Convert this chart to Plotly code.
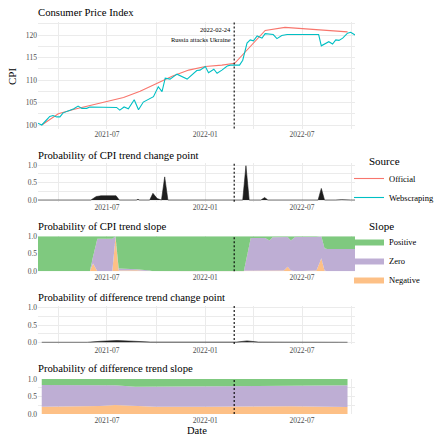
import plotly.graph_objects as go

W = H = 436
FONT = "Liberation Serif"

# ---------------- data ----------------
web_dates = ["2021-02-22", "2021-03-01", "2021-03-09", "2021-03-16", "2021-03-22", "2021-03-29",
             "2021-04-04", "2021-04-10", "2021-04-23", "2021-04-30", "2021-05-08", "2021-05-15",
             "2021-05-24", "2021-05-30", "2021-07-19", "2021-07-25", "2021-08-02", "2021-08-10",
             "2021-08-21", "2021-08-29", "2021-09-07", "2021-09-17", "2021-09-26", "2021-10-05",
             "2021-10-12", "2021-10-18", "2021-10-27", "2021-11-09", "2021-11-28", "2021-12-16",
             "2021-12-22", "2022-01-01", "2022-01-07", "2022-01-17", "2022-01-23", "2022-02-01",
             "2022-02-11", "2022-02-17", "2022-03-06", "2022-03-12", "2022-03-20", "2022-03-26",
             "2022-04-01", "2022-04-08", "2022-04-17", "2022-04-23", "2022-05-02", "2022-05-08",
             "2022-05-15", "2022-05-24", "2022-06-03", "2022-08-01", "2022-08-06", "2022-08-14",
             "2022-08-20", "2022-08-27", "2022-09-02", "2022-09-08", "2022-09-15", "2022-09-24",
             "2022-09-30", "2022-10-08"]
web_cpi = [100.4, 100.0, 101.0, 101.9, 102.1, 101.8,
           101.8, 102.7, 103.3, 103.6, 104.2, 103.7,
           103.7, 104.0, 103.9, 103.3, 104.0, 103.6,
           105.6, 103.4, 105.1, 105.8, 106.3, 108.5,
           107.4, 110.4, 110.2, 111.3, 110.2, 112.1,
           112.2, 113.0, 111.6, 112.4, 111.5, 112.2,
           113.1, 113.3, 113.3, 114.4, 118.2, 118.9,
           118.7, 119.8, 119.3, 120.3, 120.2, 120.1,
           119.2, 119.9, 120.1, 120.1, 117.6, 118.2,
           118.5, 118.0, 118.9, 118.8, 119.3, 120.4,
           120.6, 120.0]

off_dates = ["2021-03-01", "2021-04-01", "2021-05-01", "2021-06-01", "2021-07-01", "2021-08-01",
             "2021-09-01", "2021-10-01", "2021-11-01", "2021-12-01", "2022-01-01", "2022-02-01",
             "2022-02-25", "2022-04-23", "2022-05-30", "2022-09-24"]
off_cpi = [100.0, 102.5, 103.5, 104.4, 105.2, 106.1,
           107.5, 109.2, 110.9, 112.2, 113.0, 113.3,
           113.7, 121.0, 121.7, 120.7]

cp_dates = ["2021-02-22", "2021-06-01", "2021-06-11", "2021-06-20", "2021-07-18", "2021-07-24",
            "2021-08-25", "2021-08-28", "2021-08-31", "2021-09-19", "2021-09-25", "2021-10-03",
            "2021-10-11", "2021-10-17", "2021-10-23", "2022-03-12", "2022-03-18", "2022-03-24",
            "2022-04-15", "2022-04-22", "2022-04-28", "2022-07-31", "2022-08-06", "2022-08-12",
            "2022-09-02", "2022-09-13", "2022-09-30", "2022-10-08"]
cp_prob = [0.0, 0.0, 0.10, 0.12, 0.12, 0.0,
           0.0, 0.02, 0.0, 0.0, 0.19, 0.04,
           0.0, 0.66, 0.0, 0.0, 0.98, 0.0,
           0.0, 0.07, 0.0, 0.0, 0.33, 0.0,
           0.0, 0.01, 0.0, 0.0]

slope_dates = ["2021-02-22", "2021-05-30", "2021-06-05", "2021-06-13", "2021-07-11", "2021-07-17",
               "2021-07-23", "2021-08-25", "2021-09-19", "2021-09-25", "2022-03-14", "2022-03-27",
               "2022-04-23", "2022-05-01", "2022-05-07", "2022-05-28", "2022-06-04", "2022-06-10",
               "2022-06-18", "2022-07-28", "2022-08-06", "2022-08-12", "2022-08-17", "2022-10-08"]
slope_neg = [0.0, 0.0, 0.22, 0.0, 0.0, 0.97,
             0.02, 0.03, 0.0, 0.0, 0.0, 0.0,
             0.0, 0.0, 0.0, 0.02, 0.13, 0.02,
             0.0, 0.02, 0.37, 0.02, 0.0, 0.0]
slope_zero = [0.0, 0.0, 0.20, 0.93, 0.93, 0.03,
              0.06, 0.03, 0.02, 0.0, 0.0, 0.95,
              0.95, 0.88, 0.97, 0.95, 0.85, 0.86,
              0.98, 0.96, 0.63, 0.64, 0.64, 0.64]
slope_pos = [1.0, 1.0, 0.58, 0.07, 0.07, 0.0,
             0.92, 0.94, 0.98, 1.0, 1.0, 0.05,
             0.05, 0.12, 0.03, 0.03, 0.02, 0.12,
             0.02, 0.02, 0.0, 0.34, 0.36, 0.36]

dcp_dates = ["2021-03-01", "2021-05-25", "2021-06-20", "2021-07-20", "2021-08-20", "2021-09-20",
             "2022-03-01", "2022-03-20", "2022-04-10", "2022-08-01", "2022-08-05", "2022-09-24"]
dcp_prob = [0.0, 0.0, 0.03, 0.05, 0.03, 0.006,
            0.006, 0.04, 0.006, 0.005, 0.0, 0.0]

dslope_dates = ["2021-03-01", "2021-06-18", "2021-07-16", "2021-08-23", "2021-09-29", "2022-01-01",
                "2022-03-08", "2022-04-07", "2022-06-09", "2022-09-24"]
dslope_neg = [0.21, 0.23, 0.26, 0.24, 0.21, 0.21, 0.21, 0.23, 0.22, 0.20]
dslope_zero = [0.62, 0.60, 0.56, 0.54, 0.57, 0.57, 0.57, 0.57, 0.59, 0.62]
dslope_pos = [0.17, 0.17, 0.18, 0.22, 0.22, 0.22, 0.22, 0.20, 0.19, 0.18]

EVENT_DATE = "2022-02-24"
EVENT_TEXT = ["2022-02-24", "Russia attacks Ukraine"]

panel_titles = ["Consumer Price Index",
                "Probability of CPI trend change point",
                "Probability of CPI trend slope",
                "Probability of difference trend change point",
                "Probability of difference trend slope"]

COL_OFF = "#F8766D"
COL_WEB = "#00BFC4"
COL_POS = "#7FC97F"
COL_ZERO = "#BEAED4"
COL_NEG = "#FDC086"
COL_CP = "#1E1E1E"

# ---------------- layout geometry (pixels) ----------------
X_L, X_R = 38, 355
panels = [(22.4, 128.6), (163.25, 201.75), (236.3, 271.3), (306.0, 344.0), (379.0, 414.0)]
yranges = [[99.2, 122.8], [-0.05, 1.05], [0, 1], [-0.05, 1.05], [0, 1]]
title_y = [12, 155, 226, 297.3, 368.3]


def dom(top, bottom):
    return [1 - bottom / H, 1 - top / H]


fig = go.Figure()

# Panel 1
fig.add_trace(go.Scatter(x=off_dates, y=off_cpi, mode="lines", name="Official",
                         line=dict(color=COL_OFF, width=1.1), xaxis="x", yaxis="y",
                         legend="legend"))
fig.add_trace(go.Scatter(x=web_dates, y=web_cpi, mode="lines", name="Webscraping",
                         line=dict(color=COL_WEB, width=1.1), xaxis="x", yaxis="y",
                         legend="legend"))

# Panel 2
fig.add_trace(go.Scatter(x=cp_dates, y=cp_prob, mode="lines", fill="tozeroy",
                         line=dict(color=COL_CP, width=0.6), fillcolor=COL_CP,
                         showlegend=False, xaxis="x2", yaxis="y2"))

# Panel 3 (stacked)
for name, vals, col in [("Negative", slope_neg, COL_NEG), ("Zero", slope_zero, COL_ZERO),
                        ("Positive", slope_pos, COL_POS)]:
    fig.add_trace(go.Scatter(x=slope_dates, y=vals, mode="lines", stackgroup="s3", name=name,
                             line=dict(width=0, color=col), fillcolor=col,
                             xaxis="x3", yaxis="y3", legend="legend2"))

# Panel 4
fig.add_trace(go.Scatter(x=dcp_dates, y=dcp_prob, mode="lines", fill="tozeroy",
                         line=dict(color=COL_CP, width=0.6), fillcolor=COL_CP,
                         showlegend=False, xaxis="x4", yaxis="y4"))

# Panel 5 (stacked)
for name, vals, col in [("Negative", dslope_neg, COL_NEG), ("Zero", dslope_zero, COL_ZERO),
                        ("Positive", dslope_pos, COL_POS)]:
    fig.add_trace(go.Scatter(x=dslope_dates, y=vals, mode="lines", stackgroup="s5", name=name,
                             line=dict(width=0, color=col), fillcolor=col, showlegend=False,
                             xaxis="x5", yaxis="y5"))

grid = "#EBEBEB"
tickfont = dict(family=FONT, size=7.5, color="#4D4D4D")
x_range = [web_dates[0], web_dates[-1]]

layout = dict(
    width=W, height=H, autosize=False,
    margin=dict(l=0, r=0, t=0, b=0, autoexpand=False),
    paper_bgcolor="white", plot_bgcolor="white",
    font=dict(family=FONT, color="black"),
    shapes=[], annotations=[],
)

for i, ((top, bottom), yr) in enumerate(zip(panels, yranges), start=1):
    sx = "" if i == 1 else str(i)
    if i == 1:
        ydt, ymin = 5, 2.5
        yfmt = "d"
    else:
        ydt, ymin = 0.5, 0.25
        yfmt = ".1f"
    layout["xaxis" + sx] = dict(
        domain=[X_L / W, X_R / W], anchor="y" + sx, range=x_range, type="date",
        tick0="2021-01-01", dtick="M6", tickformat="%Y-%m", ticks="", ticklen=0,
        showgrid=True, gridcolor=grid, gridwidth=1, zeroline=False, showline=False,
        tickfont=tickfont, automargin=False,
        minor=dict(tick0="2021-01-01", dtick="M3", showgrid=True, gridcolor=grid,
                   gridwidth=0.5, ticks=""),
    )
    layout["yaxis" + sx] = dict(
        domain=dom(top, bottom), anchor="x" + sx, range=yr,
        tick0=0 if i > 1 else 100, dtick=ydt, tickformat=yfmt, ticks="",
        showgrid=True, gridcolor=grid, gridwidth=1, zeroline=False, showline=False,
        tickfont=tickfont, automargin=False,
        minor=dict(dtick=ymin, showgrid=True, gridcolor=grid, gridwidth=0.5, ticks=""),
    )
    layout["shapes"].append(dict(type="line", xref="x" + sx, yref="y" + sx + " domain",
                                 x0=EVENT_DATE, x1=EVENT_DATE, y0=0, y1=1,
                                 line=dict(color="black", width=1.1, dash="2px,2px"),
                                 layer="above"))
    layout["annotations"].append(dict(text=panel_titles[i - 1], xref="paper", yref="paper",
                                      x=X_L / W, y=1 - title_y[i - 1] / H, xanchor="left",
                                      yanchor="middle", showarrow=False, xshift=-2,
                                      font=dict(family=FONT, size=10.7, color="black")))

# axis titles
layout["annotations"].append(dict(text="CPI", xref="paper", yref="paper", x=12 / W,
                                  y=1 - 77 / H, textangle=-90, showarrow=False,
                                  xanchor="center", yanchor="middle",
                                  font=dict(family=FONT, size=11, color="black")))
layout["annotations"].append(dict(text="Date", xref="paper", yref="paper",
                                  x=(X_L + X_R) / 2 / W, y=1 - 430.5 / H, showarrow=False,
                                  xanchor="center", yanchor="middle",
                                  font=dict(family=FONT, size=10.5, color="black")))

# legend titles
for txt, ypx in [("Source", 161), ("Slope", 226)]:
    layout["annotations"].append(dict(text=txt, xref="paper", yref="paper", x=367 / W,
                                      y=1 - ypx / H, xanchor="left", yanchor="middle",
                                      showarrow=False,
                                      font=dict(family=FONT, size=11, color="black")))

# event labels
for txt, yv in zip(EVENT_TEXT, [121.3, 119.0]):
    layout["annotations"].append(dict(text=txt, xref="x", yref="y", x=EVENT_DATE, y=yv,
                                      xanchor="right", yanchor="middle", xshift=-1,
                                      showarrow=False,
                                      font=dict(family=FONT, size=6.5, color="black")))

layout["legend"] = dict(x=349 / W, y=1 - 164 / H, xanchor="left", yanchor="top",
                        font=dict(family=FONT, size=8.5), bgcolor="rgba(0,0,0,0)",
                        itemwidth=30, traceorder="normal")
layout["legend2"] = dict(x=349 / W, y=1 - 227 / H, xanchor="left", yanchor="top",
                         font=dict(family=FONT, size=8.5), bgcolor="rgba(0,0,0,0)",
                         traceorder="reversed", itemwidth=30)

fig.update_layout(**layout)
fig.write_html("out.html", config={"displayModeBar": False},
               post_script="document.body.style.margin='0';")
